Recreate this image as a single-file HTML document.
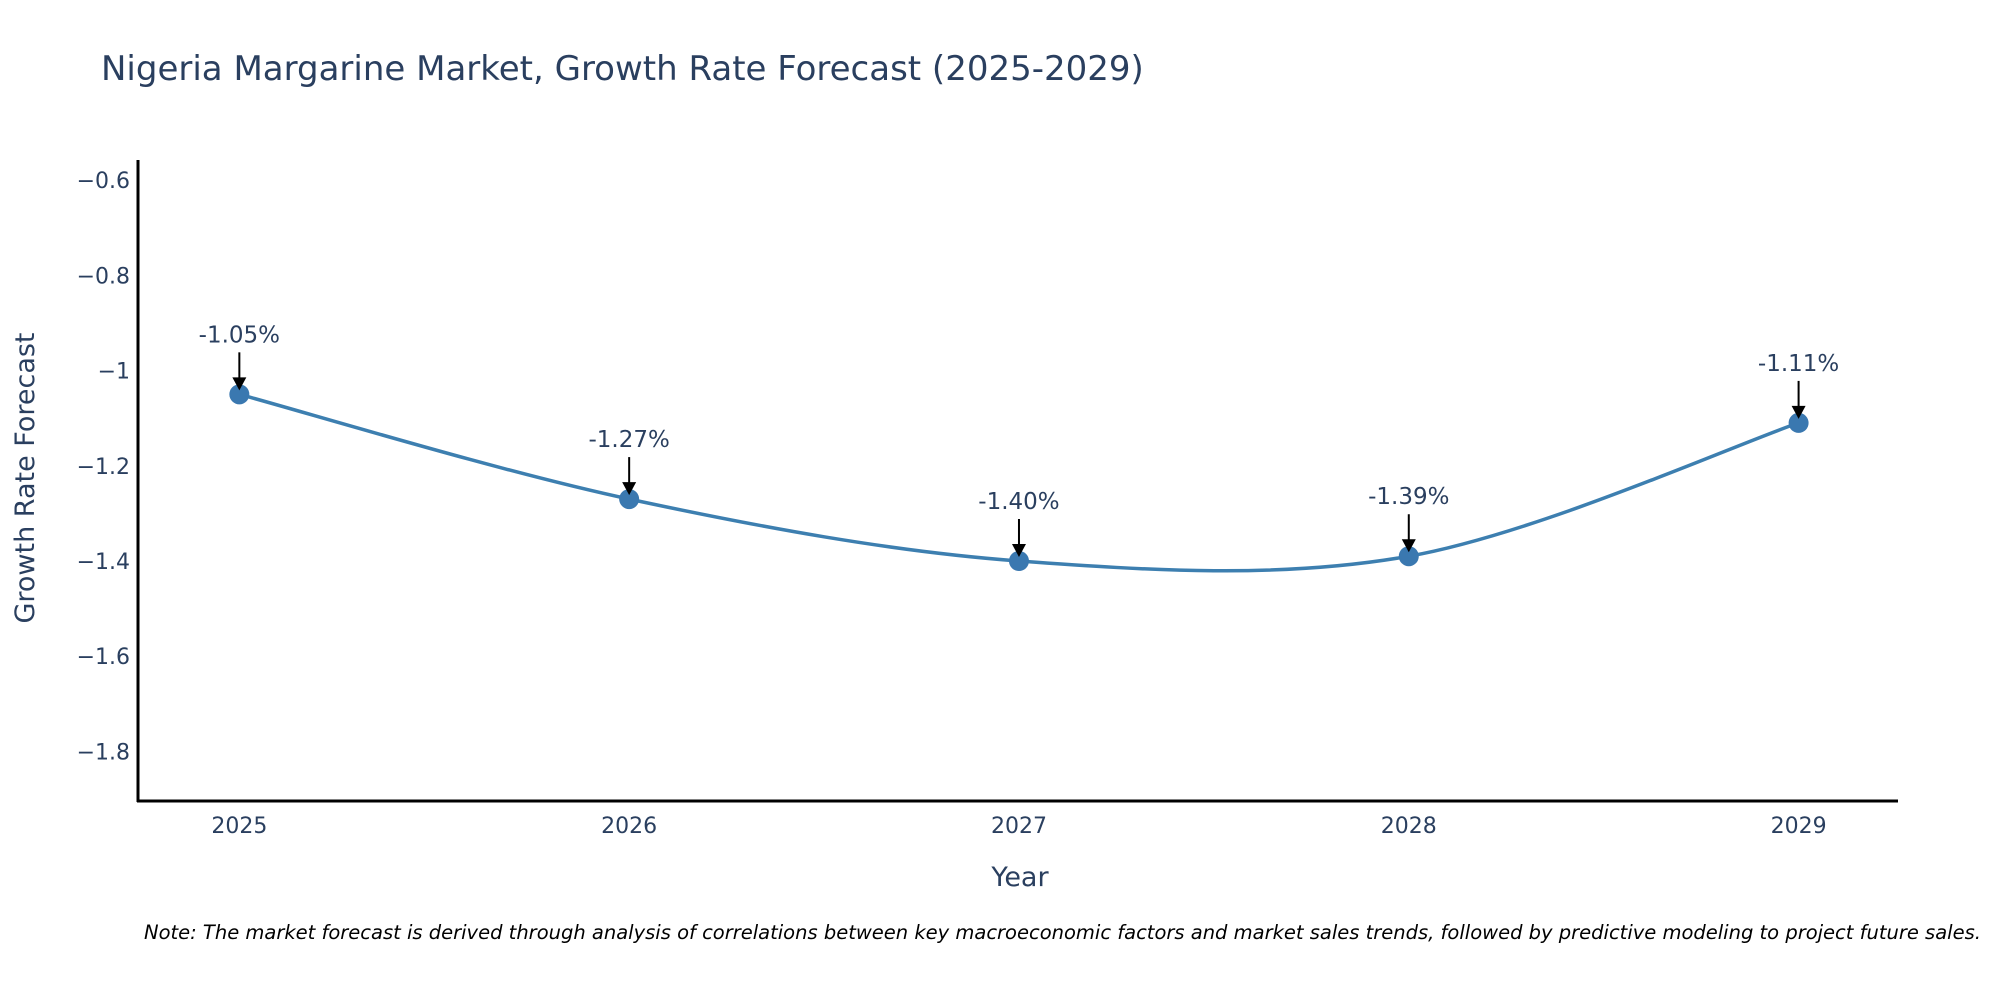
<!DOCTYPE html>
<html><head><meta charset="utf-8"><style>
body{margin:0;background:#fff;}
svg{display:block;font-family:"DejaVu Sans","Liberation Sans",sans-serif;}
</style></head><body>
<svg id="chart" width="2000" height="1000" viewBox="0 0 2000 1000" xmlns="http://www.w3.org/2000/svg">
<rect width="2000" height="1000" fill="#fff"/>
<text x="101" y="80" font-size="34" fill="#2a3f5f">Nigeria Margarine Market, Growth Rate Forecast (2025-2029)</text>
<g id="yticks"></g><g id="xticks"></g>
<line x1="138" y1="160" x2="138" y2="802" stroke="#000" stroke-width="3"/>
<line x1="137" y1="801" x2="1898" y2="801" stroke="#000" stroke-width="3"/>
<text transform="translate(34,478) rotate(-90)" text-anchor="middle" font-size="27" fill="#2a3f5f">Growth Rate Forecast</text>
<text x="1020" y="886" text-anchor="middle" font-size="27" fill="#2a3f5f">Year</text>
<path id="line" fill="none" stroke="#3d7fb0" stroke-width="3.5"/>
<g id="marks"></g>
<text x="144" y="939" font-size="19.5" font-style="italic" fill="#000">Note: The market forecast is derived through analysis of correlations between key macroeconomic factors and market sales trends, followed by predictive modeling to project future sales.</text>
</svg>
<script>
const years = [2025, 2026, 2027, 2028, 2029];
const growth = [-1.05, -1.27, -1.40, -1.39, -1.11];
const labels = ["-1.05%", "-1.27%", "-1.40%", "-1.39%", "-1.11%"];
const yTicks = [-0.6, -0.8, -1, -1.2, -1.4, -1.6, -1.8];
const yTickLabels = ["\u22120.6", "\u22120.8", "\u22121", "\u22121.2", "\u22121.4", "\u22121.6", "\u22121.8"];

const NS = "http://www.w3.org/2000/svg";
const X0 = 2024.74, X1 = 2029.255, PX0 = 138, PX1 = 1898;
const Y0 = -1.904, Y1 = -0.56, PY0 = 801, PY1 = 161;
function xs(v){return PX0 + (v - X0) / (X1 - X0) * (PX1 - PX0);}
function ys(v){return PY0 + (v - Y0) / (Y1 - Y0) * (PY1 - PY0);}
function mk(tag, attrs, parent){const e=document.createElementNS(NS,tag);for(const k in attrs)e.setAttribute(k,attrs[k]);parent.appendChild(e);return e;}

const yt = document.getElementById('yticks');
yTicks.forEach((v,i)=>{
  const t = mk('text',{x:130,y:ys(v)+8,'text-anchor':'end','font-size':22,fill:'#2a3f5f'},yt);
  
  
  t.textContent = yTickLabels[i];
});
const xt = document.getElementById('xticks');
years.forEach(y=>{
  const t = mk('text',{x:xs(y),y:833,'text-anchor':'middle','font-size':22,fill:'#2a3f5f'},xt);
  
  
  t.textContent = y;
});

const pts = years.map((y,i)=>[xs(y), ys(growth[i])]);
let d = `M${pts[0][0]},${pts[0][1]}`;
const s = 0.33;
for(let i=0;i<pts.length-1;i++){
  const p0=pts[Math.max(i-1,0)],p1=pts[i],p2=pts[i+1],p3=pts[Math.min(i+2,pts.length-1)];
  const c1=[p1[0]+(p2[0]-p0[0])*s/2, p1[1]+(p2[1]-p0[1])*s/2];
  const c2=[p2[0]-(p3[0]-p1[0])*s/2, p2[1]-(p3[1]-p1[1])*s/2];
  d += ` C${c1[0]},${c1[1]} ${c2[0]},${c2[1]} ${p2[0]},${p2[1]}`;
}
document.getElementById('line').setAttribute('d', d);

const g = document.getElementById('marks');
pts.forEach((p,i)=>{
  const c = mk('circle',{cx:p[0],cy:p[1],r:10,fill:'#3a78b0'},g);
  
  
  const l = mk('line',{x1:p[0],y1:p[1]-42,x2:p[0],y2:p[1]-16,stroke:'#000','stroke-width':2},g);
  
  
  const h = mk('polygon',{points:`${p[0]-7},${p[1]-17} ${p[0]+7},${p[1]-17} ${p[0]},${p[1]-4}`,fill:'#000'},g);
  
  
  const t = mk('text',{x:p[0],y:p[1]-52,'text-anchor':'middle','font-size':23,fill:'#2a3f5f'},g);
  
  
  t.textContent = labels[i];
});
</script>
</body></html>
